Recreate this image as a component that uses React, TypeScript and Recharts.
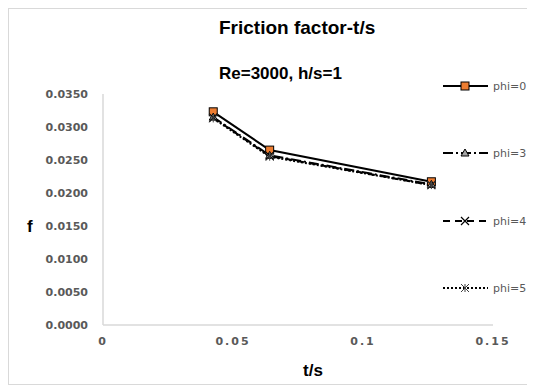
import { LineChart, Line, XAxis, YAxis } from "recharts";

const tsValues = [0.0424, 0.0641, 0.1263];
const phi0 = [0.0323, 0.0265, 0.0217];
const phi3 = [0.0315, 0.0257, 0.0213];
const phi4 = [0.0314, 0.0256, 0.0212];
const phi5 = [0.0313, 0.0255, 0.0212];
const xTicks = [0, 0.05, 0.1, 0.15];
const yTicks = [0, 0.005, 0.01, 0.015, 0.02, 0.025, 0.03, 0.035];

const data = tsValues.map((t, i) => ({
  t,
  phi0: phi0[i],
  phi3: phi3[i],
  phi4: phi4[i],
  phi5: phi5[i],
}));

const GRAY = "#595959";
const AXIS = "#d9d9d9";

function Square({ cx, cy }: { cx: number; cy: number }) {
  return <rect x={cx - 4} y={cy - 4} width={8} height={8} fill="#ED7D31" stroke="#000" strokeWidth={1} />;
}
function Tri({ cx, cy }: { cx: number; cy: number }) {
  return (
    <path d={`M${cx},${cy - 4} L${cx + 4},${cy + 3} L${cx - 4},${cy + 3} Z`} fill="#a6a6a6" stroke="#000" strokeWidth={1} />
  );
}
function Cross({ cx, cy }: { cx: number; cy: number }) {
  return (
    <path d={`M${cx - 4},${cy - 4} L${cx + 4},${cy + 4} M${cx + 4},${cy - 4} L${cx - 4},${cy + 4}`} stroke="#000" strokeWidth={1.2} fill="none" />
  );
}
function Star({ cx, cy }: { cx: number; cy: number }) {
  return (
    <path
      d={`M${cx - 4},${cy - 4} L${cx + 4},${cy + 4} M${cx + 4},${cy - 4} L${cx - 4},${cy + 4} M${cx},${cy - 4} L${cx},${cy + 4}`}
      stroke="#404040"
      strokeWidth={1}
      fill="none"
    />
  );
}

const dotFor = (Shape: any) => (p: any) => <Shape key={`${p.dataKey}-${p.index}`} cx={p.cx} cy={p.cy} />;

const series = [
  { key: "phi0", name: "phi=0", dash: undefined as string | undefined, shape: Square },
  { key: "phi3", name: "phi=3", dash: "10 3 2 3", shape: Tri },
  { key: "phi4", name: "phi=4", dash: "7 5", shape: Cross },
  { key: "phi5", name: "phi=5", dash: "2 2", shape: Star },
];

const legendY = [77, 144, 212, 279];

const txt = (extra: React.CSSProperties): React.CSSProperties => ({
  position: "absolute",
  whiteSpace: "nowrap",
  lineHeight: 1,
  ...extra,
});

export default function App() {
  return (
    <div
      style={{
        position: "relative",
        width: 527,
        height: 377,
        border: `1px solid ${AXIS}`,
        boxSizing: "border-box",
        background: "#fff",
      }}
    >
      <LineChart
        width={525}
        height={375}
        data={data}
        margin={{ top: 85, right: 41, bottom: 29, left: 44 }}
        style={{ position: "absolute", left: 0, top: 0 }}
      >
        <XAxis
          dataKey="t"
          type="number"
          domain={[0, 0.15]}
          ticks={xTicks}
          tickLine={false}
          axisLine={{ stroke: AXIS, strokeWidth: 1.5 }}
          tickSize={6}
          tickMargin={6}
          height={30}
          tick={{ fill: GRAY, fontSize: 11, fontWeight: "bold", fontFamily: "DejaVu Sans", letterSpacing: 2 }}
        />
        <YAxis
          type="number"
          domain={[0, 0.035]}
          ticks={yTicks}
          tickFormatter={(v: number) => v.toFixed(4)}
          tickLine={false}
          axisLine={{ stroke: AXIS, strokeWidth: 1.5 }}
          tickSize={6}
          tickMargin={9}
          width={50}
          tick={{ fill: GRAY, fontSize: 11, fontWeight: "bold", fontFamily: "DejaVu Sans" }}
        />
        {series.map((s) => (
          <Line
            key={s.key}
            dataKey={s.key}
            name={s.name}
            stroke="#000"
            strokeWidth={2}
            strokeDasharray={s.dash}
            dot={dotFor(s.shape)}
            isAnimationActive={false}
          />
        ))}
      </LineChart>

      <div style={txt({ left: 210, top: 9, fontSize: 19, fontWeight: "bold", fontFamily: "Liberation Sans" })}>
        Friction factor-t/s
      </div>
      <div style={txt({ left: 210, top: 56, fontSize: 17, fontWeight: "bold", fontFamily: "Liberation Sans" })}>
        Re=3000, h/s=1
      </div>
      <div style={txt({ left: 18, top: 209, fontSize: 17, fontWeight: "bold", fontFamily: "Liberation Sans" })}>f</div>
      <div style={txt({ left: 294, top: 353, fontSize: 17, fontWeight: "bold", fontFamily: "Liberation Sans" })}>t/s</div>

      <svg width={525} height={375} style={{ position: "absolute", left: 0, top: 0, pointerEvents: "none" }}>
        {series.map((s, i) => {
          const y = legendY[i];
          const Shape = s.shape;
          return (
            <g key={s.key}>
              <line x1={434} x2={479} y1={y} y2={y} stroke="#000" strokeWidth={2} strokeDasharray={s.dash} />
              <Shape cx={456} cy={y} />
              <text x={484} y={y + 4} fontSize={11} fontFamily="DejaVu Sans" fill={GRAY}>
                {s.name}
              </text>
            </g>
          );
        })}
      </svg>
    </div>
  );
}
